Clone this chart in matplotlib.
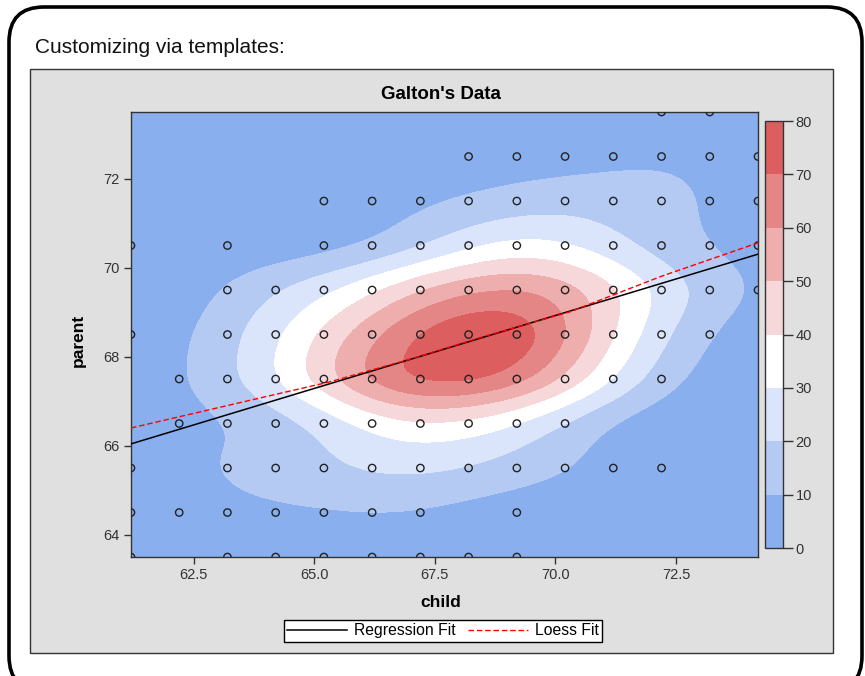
import numpy as np
import matplotlib
matplotlib.use('Agg')
import matplotlib.pyplot as plt
from matplotlib.colors import ListedColormap, BoundaryNorm
from matplotlib.patches import FancyBboxPatch, Rectangle
from matplotlib.lines import Line2D

plt.rcParams['font.family'] = ['Liberation Sans', 'DejaVu Sans']

# Galton's table: child height (columns) x mid-parent height (rows)
child_heights = [61.2, 62.2, 63.2, 64.2, 65.2, 66.2, 67.2, 68.2, 69.2, 70.2, 71.2, 72.2, 73.2, 74.2]
parent_heights = [73.5, 72.5, 71.5, 70.5, 69.5, 68.5, 67.5, 66.5, 65.5, 64.5, 63.5]
counts = [
    [0, 0, 0, 0, 0, 0, 0, 0, 0, 0, 0, 1, 3, 0],
    [0, 0, 0, 0, 0, 0, 0, 1, 2, 1, 2, 7, 2, 4],
    [0, 0, 0, 0, 1, 3, 4, 3, 5, 10, 4, 9, 2, 2],
    [1, 0, 1, 0, 1, 1, 3, 12, 18, 14, 7, 4, 3, 3],
    [0, 0, 1, 16, 4, 17, 27, 20, 33, 25, 20, 11, 4, 5],
    [1, 0, 7, 11, 16, 25, 31, 34, 48, 21, 18, 4, 3, 0],
    [0, 3, 5, 14, 15, 36, 38, 28, 38, 19, 11, 4, 0, 0],
    [0, 3, 3, 5, 2, 17, 17, 14, 13, 4, 0, 0, 0, 0],
    [1, 0, 9, 5, 7, 11, 11, 7, 7, 5, 2, 1, 0, 0],
    [1, 1, 4, 4, 1, 5, 5, 0, 2, 0, 0, 0, 0, 0],
    [1, 0, 2, 4, 1, 2, 2, 1, 1, 0, 0, 0, 0, 0],
]

# loess curve
loess_x = [61.2, 63.9, 65.3, 67.0, 68.5, 70.3, 72.2, 74.2]
loess_y = [66.40, 67.08, 67.43, 67.95, 68.45, 69.01, 69.81, 70.56]

density_levels = [0, 10, 20, 30, 40, 50, 60, 70, 80]
density_peak = 78
density_colors = ['#8AAFEE', '#B4CAF3', '#DAE4FA', '#FFFFFF',
                  '#F7D8DA', '#EFAEAE', '#E58686', '#DC5E5F']
x_ticks = [62.5, 65.0, 67.5, 70.0, 72.5]
y_ticks = [64, 66, 68, 70, 72]
x_range = (61.2, 74.2)
y_range = (63.5, 73.5)

# points with at least one observation
cx, cy = np.meshgrid(child_heights, parent_heights)
w = np.array(counts, dtype=float)
mask = w > 0
px, py, pw = cx[mask], cy[mask], w[mask]

# kernel density on a grid
hx, hy = 1.35, 0.6
gx = np.linspace(x_range[0], x_range[1], 261)
gy = np.linspace(y_range[0], y_range[1], 201)
kx = np.exp(-0.5 * ((gx[None, :] - px[:, None]) / hx) ** 2)
ky = np.exp(-0.5 * ((gy[None, :] - py[:, None]) / hy) ** 2)
dens = (ky * pw[:, None]).T @ kx
dens = dens / dens.max() * density_peak

slope, intercept = np.polyfit(px, py, 1, w=np.sqrt(pw))

fig = plt.figure(figsize=(8.65, 6.76), dpi=100)

# rounded outer frame
frame = FancyBboxPatch((0.09, -0.15), 8.53, 6.84,
                       boxstyle='round,pad=0,rounding_size=0.35',
                       transform=fig.dpi_scale_trans, facecolor='none',
                       edgecolor='black', linewidth=2.6, zorder=-10)
fig.add_artist(frame)

# gray graph panel
panel = Rectangle((0.0347, 0.034), 0.9283, 0.8639, transform=fig.transFigure,
                  facecolor='#E0E0E0', edgecolor='#333333', linewidth=1, zorder=-5)
fig.add_artist(panel)

fig.text(0.0405, 0.929, 'Customizing via templates:', fontsize=15, va='center', ha='left', color='#111111')
fig.text(0.510, 0.8595, "Galton's Data", fontsize=13.5, fontweight='bold', ha='center', va='center')

ax = fig.add_axes([0.1514, 0.1760, 0.7249, 0.6583])
cmap = ListedColormap(density_colors)
norm = BoundaryNorm(density_levels, cmap.N)
cf = ax.contourf(gx, gy, dens, levels=density_levels, cmap=cmap, norm=norm)

ax.scatter(px, py, s=28, facecolors='none', edgecolors='#222222', linewidths=1.0, zorder=3)
line_x = np.array(x_range)
ax.plot(line_x, intercept + slope * line_x, color='black', linewidth=1.1, zorder=4)
ax.plot(loess_x, loess_y, color='#FF0000', linewidth=1.0, dashes=(4, 2), zorder=5)

ax.set_xlim(*x_range)
ax.set_ylim(*y_range)
ax.set_xticks(x_ticks)
ax.set_xticklabels(['%.1f' % v for v in x_ticks])
ax.set_yticks(y_ticks)
ax.tick_params(length=5, width=1, color='#333333', labelsize=10.5, labelcolor='#333333', pad=3)
for s in ax.spines.values():
    s.set_color('#333333')
    s.set_linewidth(1)

fig.text(0.510, 0.108, 'child', fontsize=12.5, fontweight='bold', ha='center', va='center')
fig.text(0.090, 0.497, 'parent', fontsize=12.5, fontweight='bold', ha='center', va='center', rotation=90)

cax = fig.add_axes([0.8844, 0.1893, 0.0208, 0.6317])
cb = fig.colorbar(cf, cax=cax, ticks=density_levels)
cb.outline.set_edgecolor('#333333')
cb.outline.set_linewidth(1)
cax.tick_params(length=7, width=1, color='#333333', labelsize=10.5, labelcolor='#333333', pad=2)

handles = [Line2D([], [], color='black', linewidth=1.1),
           Line2D([], [], color='#FF0000', linewidth=1.0, dashes=(4, 2))]
leg = fig.legend(handles, ['Regression Fit', 'Loess Fit'], loc='center',
                 bbox_to_anchor=(0.512, 0.0666), ncol=2, fontsize=11.3,
                 frameon=True, fancybox=False, edgecolor='black',
                 handlelength=3.8, handletextpad=0.45, columnspacing=0.8,
                 borderpad=0.2, borderaxespad=0)
leg.get_frame().set_linewidth(1)
leg.get_frame().set_facecolor('white')
leg.get_frame().set_alpha(1)

fig.savefig('out.png', dpi=100)
